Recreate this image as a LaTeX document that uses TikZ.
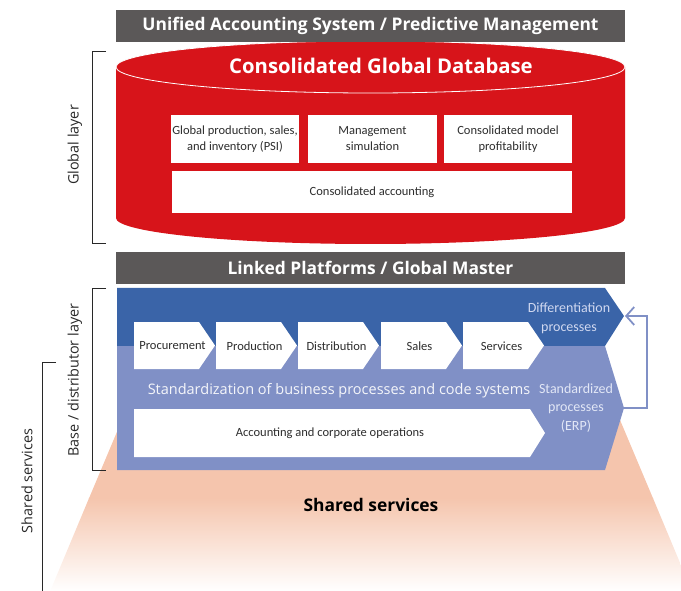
\documentclass[tikz,border=0pt]{standalone}
\usepackage{fontspec}
\setmainfont{Open Sans}
\newfontfamily\cond{Carlito}
\usetikzlibrary{arrows.meta}
\definecolor{barg}{RGB}{91,88,88}
\definecolor{dbred}{RGB}{215,20,26}
\definecolor{dblue}{RGB}{58,100,168}
\definecolor{lblue}{RGB}{128,144,198}
\definecolor{peach}{RGB}{245,197,173}
\definecolor{difftxt}{RGB}{208,216,240}
\definecolor{erptxt}{RGB}{226,231,246}
\definecolor{boxtxt}{RGB}{45,45,45}
\definecolor{brk}{RGB}{40,40,40}
\tikzset{
  barbox/.style={fill=barg, text=white, font=\bfseries\fontsize{17.4}{19}\selectfont,
    minimum width=509pt, minimum height=32pt, inner sep=0pt},
  whitebox/.style={fill=white, text=boxtxt, font=\cond\fontsize{12.5}{16}\selectfont,
    inner sep=0pt, align=center},
  chevlbl/.style={text=boxtxt, font=\cond\fontsize{12.5}{15}\selectfont, inner sep=0pt},
  bracketline/.style={draw=brk, line width=0.9pt},
  sidelbl/.style={text=brk, font=\fontsize{14.4}{16}\selectfont, rotate=90, inner sep=0pt},
}
\begin{document}
\begin{tikzpicture}[x=1pt,y=-1pt]
\useasboundingbox (0,0) rectangle (681,591);

% shared services trapezoid: solid upper part, fading lower part
\fill[peach] (132.5,395) -- (609.5,395) -- (653.3,499) -- (88.7,499) -- cycle;
\shade[top color=peach, bottom color=white]
  (89.1,498) -- (652.9,498) -- (691.8,591) -- (50.2,591) -- cycle;

% cylinder
\fill[dbred] (116,67) -- (116,218) arc[start angle=180, end angle=360, x radius=254.5pt, y radius=26pt] -- (625,67) -- cycle;
\draw[fill=dbred, draw=white, line width=0.8pt] (370.5,67) ellipse [x radius=254.5pt, y radius=26pt];

\node[barbox] (topbar) at (370.5,26) {Unified Accounting System / Predictive Management};
\node[text=white, font=\bfseries\fontsize{20.3}{24}\selectfont, inner sep=0pt] (cgd) at (381,66) {Consolidated Global Database};

\node[whitebox, minimum width=128pt, minimum height=48pt] (psi) at (235,139) {Global production, sales,\\and inventory (PSI)};
\node[whitebox, minimum width=129pt, minimum height=48pt] (mgmt) at (372.5,139) {Management\\simulation};
\node[whitebox, minimum width=128pt, minimum height=48pt] (prof) at (508,139) {Consolidated model\\profitability};
\node[whitebox, minimum width=400pt, minimum height=42pt] (cacc) at (372,192) {Consolidated accounting};

\node[barbox] (midbar) at (370.5,268) {Linked Platforms / Global Master};

% blue platform
\fill[dblue] (117,288) -- (605,288) -- (624,316) -- (605,346) -- (117,346) -- cycle;
\fill[lblue] (117,346) -- (605,346) -- (624,408) -- (605,470) -- (117,470) -- cycle;
\coordinate (difftip) at (625,316);
\coordinate (erptip) at (624,408);
\coordinate (retcorner) at (647,408);

% process chevrons
\foreach \x/\name/\lbl in {134/proc/Procurement,216/prod/Production,298/dist/Distribution,381/sales/Sales,463/serv/Services}{
  \fill[white] (\x,322) -- (\x+65,322) -- (\x+81,345.5) -- (\x+65,369) -- (\x,369) -- cycle;
  \node[chevlbl] (\name) at (\x+38.5,346) {\lbl};
}
\fill[white] (134,409) -- (530,409) -- (545,433) -- (530,457) -- (134,457) -- cycle;
\node[chevlbl] (acc) at (330,433) {Accounting and corporate operations};

\node[text=difftxt, font=\cond\fontsize{14}{19}\selectfont, align=center, inner sep=0pt] (diff) at (569,318) {Differentiation\\processes};
\node[text=erptxt, font=\cond\fontsize{14}{18.5}\selectfont, align=center, inner sep=0pt] (erp) at (576,408) {Standardized\\processes\\(ERP)};
\node[text=white!92!lblue, font=\fontsize{14.5}{17}\selectfont, inner sep=0pt] (std) at (339,391) {Standardization of business processes and code systems};

% return arrow
\draw[lblue, line width=1.8pt, -{Straight Barb[length=8pt, width=18pt, line width=1.8pt]}]
  (erptip) -- (retcorner) |- (difftip);

% shared services label
\node[font=\bfseries\fontsize{17.4}{19}\selectfont, inner sep=0pt] (ss) at (371,505) {Shared services};

% brackets
\draw[bracketline] (106,51) -- (92,51) -- (92,243) -- (106,243);
\node[sidelbl] (gl) at (75,145) {Global layer};
\draw[bracketline] (106,288) -- (92,288) -- (92,470) -- (106,470);
\node[sidelbl] (bl) at (75,380) {Base / distributor layer};
\draw[bracketline] (56,362) -- (42,362) -- (42,591);
\node[sidelbl] (sl) at (27,481) {Shared services};
\end{tikzpicture}
\end{document}
